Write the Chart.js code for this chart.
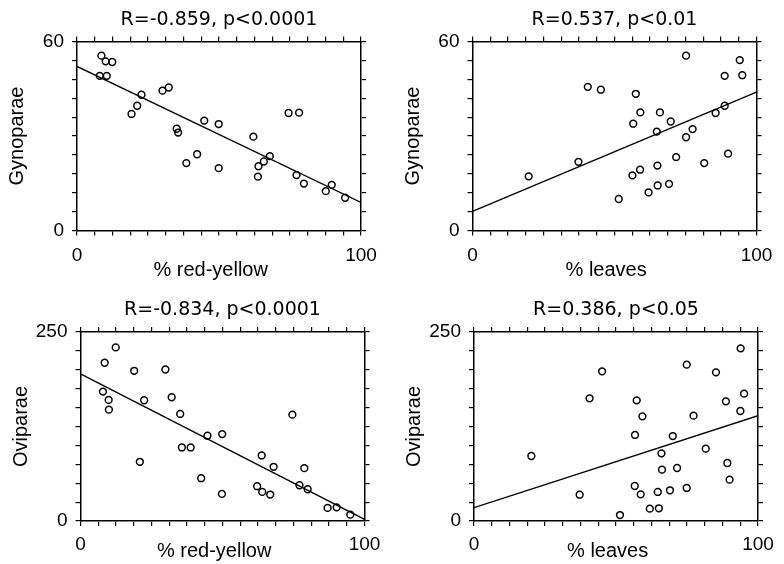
<!DOCTYPE html>
<html>
<head>
<meta charset="utf-8">
<script src="https://cdn.jsdelivr.net/npm/chart.js@4.4.0/dist/chart.umd.min.js"></script>
<style>
  html, body { margin: 0; padding: 0; background: #fff; overflow: hidden; }
  #wrap { position: relative; width: 784px; height: 564px; }
  canvas { position: absolute; }
</style>
</head>
<body>
<div id="wrap">
  <canvas id="gynoRed" width="392" height="282"></canvas>
  <canvas id="gynoLeaves" width="392" height="282"></canvas>
  <canvas id="oviRed" width="392" height="282"></canvas>
  <canvas id="oviLeaves" width="392" height="282"></canvas>
</div>
<script>
// values (x = %, y = counts)
const fitX = [0, 100];

const gynoRedX = [8.6, 10.1, 12.4, 8.0, 10.5, 22.7, 21.2, 19.2, 30.1, 32.3, 35.1, 35.6, 44.8, 49.9, 42.3,
                  38.5, 49.9, 62.1, 67.9, 65.8, 63.9, 63.7, 74.5, 78.2, 77.3, 79.9, 87.6, 89.7, 94.4];
const gynoRedY = [55.5, 53.7, 53.5, 49.1, 49.1, 43.1, 39.6, 37.0, 44.4, 45.4, 32.3, 31.1, 34.9, 33.8, 24.2,
                  21.4, 19.8, 29.8, 23.6, 21.9, 20.4, 17.1, 37.3, 37.4, 17.6, 14.9, 12.5, 14.5, 10.4];
const gynoRedFit = [52.1, 8.9];

const gynoLeavesX = [19.8, 37.3, 40.6, 45.2, 51.5, 57.5, 59.1, 56.6, 66.0, 69.8, 64.9, 77.5, 75.2, 71.7,
                     65.1, 59.0, 56.3, 62.0, 65.2, 69.2, 75.2, 81.6, 85.6, 88.8, 88.8, 90.0, 94.1, 95.0];
const gynoLeavesY = [17.2, 21.8, 45.6, 44.7, 10.0, 43.4, 37.5, 33.9, 37.5, 34.6, 31.4, 32.2, 29.6, 23.3,
                     20.6, 19.3, 17.5, 12.1, 14.3, 14.8, 55.5, 21.4, 37.3, 49.1, 39.6, 24.4, 54.1, 49.3];
const gynoLeavesFit = [6.1, 43.9];

const oviRedX = [8.5, 12.4, 7.9, 9.9, 10.0, 18.9, 22.4, 20.9, 29.9, 32.1, 35.1, 35.7, 38.8, 44.7, 49.9,
                 42.5, 49.8, 62.2, 64.0, 66.8, 63.8, 68.0, 74.6, 77.1, 78.8, 80.0, 87.0, 90.2, 95.0];
const oviRedY = [209.3, 229.6, 171.2, 160.2, 147.3, 198.7, 159.7, 78.3, 200.4, 163.7, 141.6, 97.3, 97.3, 112.8, 115.0,
                 56.6, 35.8, 46.0, 38.5, 35.0, 86.7, 71.7, 140.7, 47.3, 69.9, 42.0, 17.3, 18.1, 8.4];
const oviRedFit = [194.7, 2.2];

const oviLeavesX = [20.2, 37.2, 40.7, 45.1, 51.4, 57.3, 59.3, 56.7, 56.6, 58.7, 61.9, 65.1, 64.7, 66.0, 66.2,
                    69.0, 70.0, 71.5, 74.9, 74.9, 77.3, 81.6, 85.2, 88.7, 89.2, 90.0, 93.8, 93.9, 95.1];
const oviLeavesY = [86.0, 34.8, 162.3, 198.0, 7.9, 159.6, 138.4, 113.8, 46.3, 35.3, 16.3, 16.8, 38.4, 89.5, 67.9,
                    40.6, 112.4, 70.1, 206.8, 43.7, 139.3, 95.7, 196.6, 158.3, 76.7, 54.7, 145.5, 228.4, 168.4];
const oviLeavesFit = [17.6, 139.3];

const gynoAxis = { max: 60, step: 6 };
const oviAxis = { max: 250, step: 25 };

const W = 392, H = 282, PLOT_W = 284, PLOT_H = 189, TICK = 5;
const SANS = 'Liberation Sans, Arial, sans-serif';
// the x titles sit a little left of the plot centre in the original
const SHIFT = '\u00a0\u00a0\u00a0';

function frame(extra) {
    return Object.assign({
        type: 'linear',
        border: { display: true, color: '#000', width: 1.5 },
        grid: { display: true, drawOnChartArea: false, drawTicks: true, tickLength: TICK, color: '#000', lineWidth: 1.2 }
    }, extra);
}

function buildPanel(id, box, xs, ys, fit, yAxis, texts) {
    const el = document.getElementById(id);
    el.style.left = box.cx + 'px';
    el.style.top = box.cy + 'px';

    const plotLeft = box.left - box.cx;
    const plotTop = box.top - box.cy;
    const plotBottom = plotTop + PLOT_H;
    const rightPad = W - (plotLeft + PLOT_W) - TICK;

    const xTicks = {
        stepSize: 6.25, autoSkip: false, maxRotation: 0, padding: box.tickPad, color: '#000',
        font: { family: SANS, size: 19 },
        callback: v => (v === 0 || v === 100) ? String(v) : ''
    };
    const yTicks = {
        stepSize: yAxis.step, autoSkip: false, padding: 8, color: '#000',
        font: { family: SANS, size: 19 },
        callback: v => (v === 0 || v === yAxis.max) ? String(v) : ''
    };

    new Chart(el, {
        type: 'scatter',
        data: {
            datasets: [{
                data: xs.map((x, i) => ({ x: x, y: ys[i] })),
                pointRadius: 3.4,
                pointBorderWidth: 1.5,
                borderColor: '#000',
                backgroundColor: 'rgba(0,0,0,0)'
            }, {
                data: fitX.map((x, i) => ({ x: x, y: fit[i] })),
                showLine: true,
                pointRadius: 0,
                borderColor: '#000',
                borderWidth: 1.4
            }]
        },
        options: {
            responsive: false,
            animation: false,
            events: [],
            layout: { padding: { left: 0, top: 0, right: rightPad, bottom: 0 } },
            plugins: {
                legend: { display: false },
                tooltip: { enabled: false },
                title: {
                    display: true,
                    text: texts.title,
                    fullSize: false,
                    color: '#000',
                    font: { family: 'DejaVu Sans, Verdana, sans-serif', size: 19, weight: 'normal' },
                    padding: { top: plotTop - TICK - 5.1 - 22.8, bottom: 5.1 }
                }
            },
            scales: {
                x: frame({
                    position: 'bottom', min: 0, max: 100, ticks: xTicks,
                    title: { display: true, text: texts.x + SHIFT, color: '#000', font: { family: SANS, size: 20 },
                             padding: { top: 0, bottom: box.xTitlePad } },
                    afterFit: s => { s.height = H - plotBottom; }
                }),
                x2: frame({
                    position: 'top', min: 0, max: 100,
                    ticks: { display: false, stepSize: 6.25, autoSkip: false },
                    afterFit: s => { s.height = TICK; }
                }),
                y: frame({
                    position: 'left', min: 0, max: yAxis.max, ticks: yTicks,
                    title: { display: true, text: texts.y, color: '#000', font: { family: SANS, size: 20 },
                             padding: { top: plotLeft - 57.6 - 13.9, bottom: 0 } },
                    afterFit: s => { s.width = plotLeft; }
                }),
                y2: frame({
                    position: 'right', min: 0, max: yAxis.max,
                    ticks: { display: false, stepSize: yAxis.step, autoSkip: false },
                    afterFit: s => { s.width = TICK; }
                })
            }
        }
    });
}

buildPanel('gynoRed', { cx: 0, cy: 0, left: 77, top: 41.5, xTitlePad: 0, tickPad: 9 },
    gynoRedX, gynoRedY, gynoRedFit, gynoAxis,
    { title: 'R=-0.859, p<0.0001', x: '% red-yellow', y: 'Gynoparae' });

buildPanel('gynoLeaves', { cx: 392, cy: 0, left: 472.5, top: 41.5, xTitlePad: 0, tickPad: 9 },
    gynoLeavesX, gynoLeavesY, gynoLeavesFit, gynoAxis,
    { title: 'R=0.537, p<0.01', x: '% leaves', y: 'Gynoparae' });

buildPanel('oviRed', { cx: 0, cy: 282, left: 80.5, top: 332, xTitlePad: 1, tickPad: 7 },
    oviRedX, oviRedY, oviRedFit, oviAxis,
    { title: 'R=-0.834, p<0.0001', x: '% red-yellow', y: 'Oviparae' });

buildPanel('oviLeaves', { cx: 392, cy: 282, left: 474, top: 332, xTitlePad: 1, tickPad: 7 },
    oviLeavesX, oviLeavesY, oviLeavesFit, oviAxis,
    { title: 'R=0.386, p<0.05', x: '% leaves', y: 'Oviparae' });
</script>
</body>
</html>
